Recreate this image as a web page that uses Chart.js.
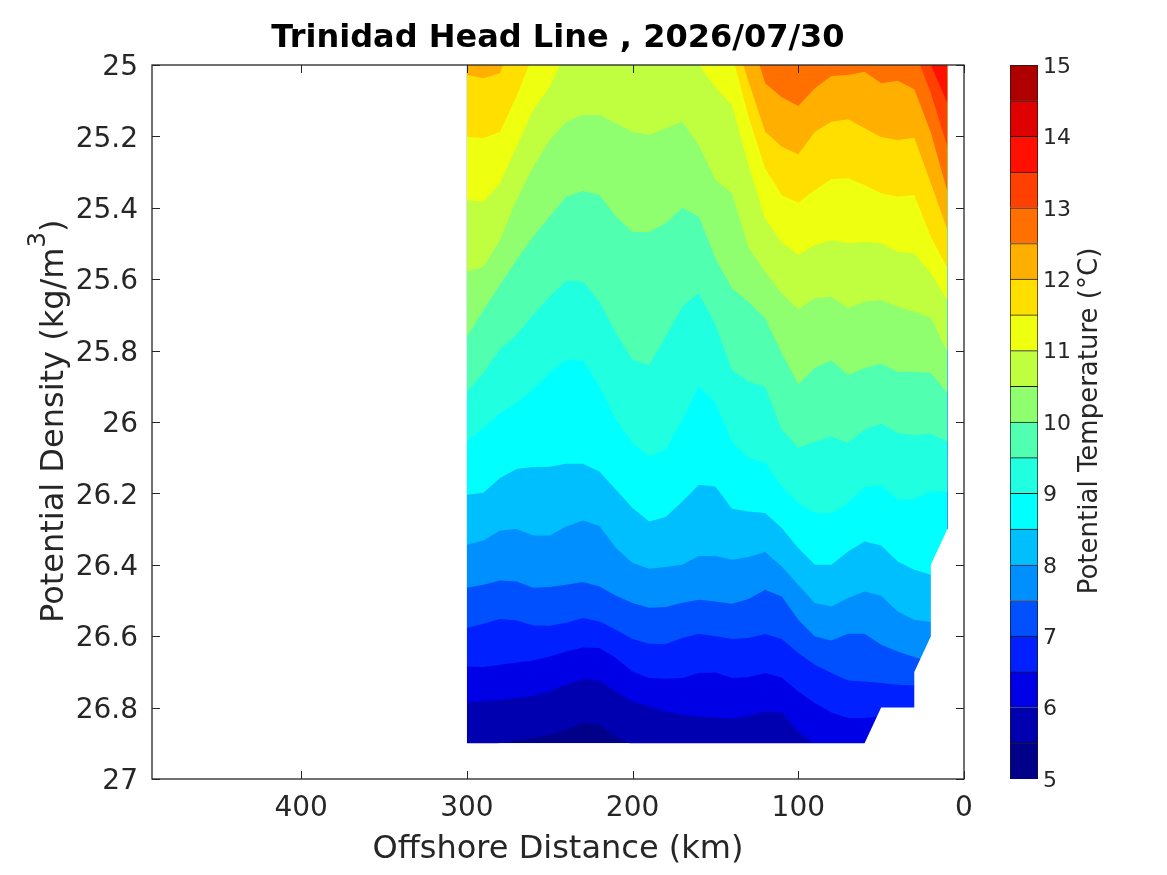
<!DOCTYPE html>
<html>
<head>
<meta charset="utf-8">
<title>Trinidad Head Line</title>
<script src="https://cdn.jsdelivr.net/npm/chart.js@4"></script>
<style>
  body { margin: 0; background: #fff; }
  canvas { position: absolute; top: 0; }
  #sectionChart { left: 0; }
  #barChart { left: 1000px; }
</style>
</head>
<body>
<canvas id="sectionChart" width="1000" height="875"></canvas>
<canvas id="barChart" width="167" height="875"></canvas>
<script>
// offshore stations (km)
const stations = [300,290,280,270,260,250,240,230,220,210,200,190,180,170,160,150,140,130,120,110,100,90,80,70,60,50,40,30,20,10];

// density of each temperature contour at the stations; warmer water is above the line
const t5_0 = [26.9,26.9,26.9,26.9,26.9,26.9,26.9,26.9,26.9,26.9,26.9,26.9,26.9,26.9,26.9,26.9,26.9,26.9,26.9,26.9,26.9,26.9,26.9,26.9,26.9,26.9,26.9,26.9,26.9,26.9];
const t5_5 = [26.91,26.91,26.9,26.893,26.885,26.877,26.863,26.843,26.849,26.882,26.905,26.95,26.95,26.95,26.95,26.95,26.95,26.95,26.95,26.95,26.95,26.95,26.95,26.95,26.95,26.95,26.95,26.95,26.95,26.95];
const t6_0 = [26.786,26.782,26.778,26.773,26.767,26.755,26.736,26.72,26.724,26.755,26.783,26.797,26.811,26.82,26.825,26.828,26.831,26.823,26.811,26.815,26.867,26.904,26.95,26.95,26.95,26.95,26.95,26.95,26.95,26.95];
const t6_5 = [26.685,26.686,26.68,26.674,26.668,26.657,26.643,26.632,26.633,26.661,26.699,26.717,26.719,26.717,26.703,26.702,26.717,26.714,26.703,26.716,26.755,26.787,26.814,26.829,26.829,26.825,26.85,26.95,26.95,26.95];
const t7_0 = [26.577,26.565,26.552,26.556,26.57,26.571,26.562,26.549,26.559,26.582,26.608,26.621,26.622,26.605,26.593,26.6,26.608,26.605,26.594,26.608,26.647,26.68,26.703,26.724,26.727,26.731,26.736,26.738,26.742,26.76];
const t7_5 = [26.464,26.456,26.444,26.447,26.464,26.462,26.456,26.448,26.461,26.487,26.507,26.52,26.518,26.506,26.498,26.503,26.509,26.496,26.47,26.489,26.554,26.601,26.612,26.593,26.593,26.624,26.643,26.658,26.672,26.7];
const t8_0 = [26.344,26.332,26.304,26.3,26.318,26.318,26.293,26.276,26.291,26.353,26.395,26.411,26.406,26.4,26.375,26.375,26.386,26.378,26.364,26.405,26.456,26.507,26.517,26.493,26.475,26.487,26.531,26.554,26.56,26.6];
const t8_5 = [26.204,26.198,26.157,26.132,26.126,26.125,26.117,26.117,26.139,26.19,26.241,26.279,26.266,26.223,26.176,26.181,26.243,26.251,26.255,26.297,26.353,26.4,26.4,26.363,26.335,26.346,26.391,26.414,26.428,26.45];
const t9_0 = [26.055,26.017,25.975,25.947,25.908,25.863,25.826,25.828,25.901,25.994,26.059,26.097,26.076,25.994,25.901,25.947,26.055,26.101,26.115,26.181,26.227,26.255,26.257,26.227,26.182,26.178,26.218,26.216,26.195,26.195];
const t9_5 = [25.915,25.863,25.796,25.756,25.7,25.649,25.604,25.607,25.663,25.751,25.826,25.84,25.761,25.677,25.639,25.728,25.854,25.887,25.902,26.022,26.072,26.055,26.041,26.058,26.022,26.005,26.031,26.038,26.033,26.055];
const t10_0 = [25.761,25.686,25.616,25.546,25.481,25.425,25.369,25.353,25.364,25.425,25.468,25.468,25.443,25.4,25.425,25.542,25.626,25.664,25.71,25.807,25.894,25.849,25.828,25.868,25.849,25.837,25.859,25.859,25.863,25.919];
const t10_5 = [25.579,25.565,25.49,25.378,25.285,25.21,25.159,25.14,25.14,25.163,25.187,25.196,25.177,25.159,25.225,25.322,25.36,25.512,25.58,25.64,25.684,25.653,25.649,25.681,25.663,25.658,25.677,25.691,25.709,25.803];
const t11_0 = [25.378,25.383,25.331,25.229,25.126,25.061,24.964,24.9,24.9,24.9,24.9,24.9,24.9,24.9,25,25.062,25.113,25.28,25.431,25.496,25.532,25.504,25.49,25.499,25.495,25.499,25.523,25.527,25.583,25.658];
const t11_5 = [25.201,25.205,25.187,25.087,24.972,24.9,24.9,24.9,24.9,24.9,24.9,24.9,24.9,24.9,24.9,24.9,24.97,25.145,25.29,25.364,25.386,25.35,25.32,25.317,25.336,25.359,25.369,25.364,25.481,25.569];
const t12_0 = [25.028,25.037,25.023,24.9,24.9,24.9,24.9,24.9,24.9,24.9,24.9,24.9,24.9,24.9,24.9,24.9,24.9,25.047,25.187,25.229,25.25,25.187,25.159,25.152,25.177,25.202,25.21,25.204,25.331,25.462];
const t12_5 = [24.9,24.9,24.9,24.9,24.9,24.9,24.9,24.9,24.9,24.9,24.9,24.9,24.9,24.9,24.9,24.9,24.9,24.9,25.051,25.09,25.115,25.065,25.031,25.028,25.019,25.051,25.044,25.068,25.19,25.355];
const t13_0 = [24.9,24.9,24.9,24.9,24.9,24.9,24.9,24.9,24.9,24.9,24.9,24.9,24.9,24.9,24.9,24.9,24.9,24.9,24.9,24.9,24.9,24.9,24.9,24.9,24.9,24.9,24.9,24.957,25.079,25.229];
const t13_5 = [24.9,24.9,24.9,24.9,24.9,24.9,24.9,24.9,24.9,24.9,24.9,24.9,24.9,24.9,24.9,24.9,24.9,24.9,24.9,24.9,24.9,24.9,24.9,24.9,24.9,24.9,24.9,24.9,25,25.107];

// edge of the sampled section, everything under it stays white
const edgeDist = [310,60,50,30,30,20,20,10,0];
const edgeDens = [26.9,26.9,26.8,26.8,26.7,26.6,26.4,26.3,26.3];

const tempBands = [5,5.5,6,6.5,7,7.5,8,8.5,9,9.5,10,10.5,11,11.5,12,12.5,13,13.5,14,14.5,15];
const bandColors = ['#000088','#0000b0','#0000e6','#0020ff','#0050ff','#008fff','#00bfff','#00ffff','#20ffdf','#50ffaf','#8fff70','#bfff40','#efff10','#ffdf00','#ffaf00','#ff7000','#ff4000','#ff1000','#df0000','#af0000'];

const xTicks = [0,100,200,300,400];
const yTicks = [25,25.2,25.4,25.6,25.8,26,26.2,26.4,26.6,26.8,27];
const barTicks = [5,6,7,8,9,10,11,12,13,14,15];

const contours = [t5_0,t5_5,t6_0,t6_5,t7_0,t7_5,t8_0,t8_5,t9_0,t9_5,t10_0,t10_5,t11_0,t11_5,t12_0,t12_5,t13_0,t13_5];

const FONT = '"DejaVu Sans"';
const INK = '#262626';
Chart.defaults.font.family = FONT;
Chart.defaults.color = INK;

let datasets = [];
contours.forEach(function(line, i){
  datasets.push({
    data: line.map(function(d, j){ return {x: stations[j], y: d}; }),
    showLine: true,
    pointRadius: 0,
    borderWidth: 0,
    borderColor: 'transparent',
    backgroundColor: bandColors[i],
    fill: {value: 25},
    tension: 0,
    order: contours.length - i
  });
});
// white under the section edge, drawn last
datasets.push({
  data: edgeDist.map(function(x, j){ return {x: x, y: edgeDens[j]}; }),
  showLine: true,
  pointRadius: 0,
  borderWidth: 0,
  borderColor: 'transparent',
  backgroundColor: '#fff',
  fill: {value: 27},
  tension: 0,
  order: -1
});

// MATLAB style box with the ticks pointing inwards
const boxPlugin = {
  id: 'box',
  afterDatasetsDraw(chart){
    const c = chart.ctx, a = chart.chartArea;
    const tick = 8;
    c.save();
    c.strokeStyle = INK;
    c.lineWidth = 1.3;
    c.strokeRect(a.left, a.top, a.right - a.left, a.bottom - a.top);
    c.lineWidth = 1;
    c.beginPath();
    xTicks.forEach(function(v){
      const p = Math.round(chart.scales.x.getPixelForValue(v)) + 0.5;
      c.moveTo(p, a.bottom); c.lineTo(p, a.bottom - tick);
      c.moveTo(p, a.top); c.lineTo(p, a.top + tick);
    });
    yTicks.forEach(function(v){
      const p = Math.round(chart.scales.y.getPixelForValue(v)) + 0.5;
      c.moveTo(a.left, p); c.lineTo(a.left + tick, p);
      c.moveTo(a.right, p); c.lineTo(a.right - tick, p);
    });
    c.stroke();
    c.restore();
  }
};

// y axis title, the library has no superscript
const yTitlePlugin = {
  id: 'yTitle',
  afterDraw(chart){
    const c = chart.ctx;
    const head = 'Potential Density (kg/m';
    c.save();
    c.translate(62.5, 623);
    c.rotate(-Math.PI / 2);
    c.fillStyle = INK;
    c.textBaseline = 'alphabetic';
    c.font = '32px ' + FONT;
    c.fillText(head, 0, 0);
    let w = c.measureText(head).width;
    c.font = '24.5px ' + FONT;
    c.fillText('3', w, -17.5);
    w += c.measureText('3').width;
    c.font = '32px ' + FONT;
    c.fillText(')', w, 0);
    c.restore();
  }
};

new Chart(document.getElementById('sectionChart'), {
  type: 'scatter',
  data: {datasets: datasets},
  plugins: [boxPlugin, yTitlePlugin],
  options: {
    responsive: false,
    animation: false,
    devicePixelRatio: 1,
    layout: {padding: {right: 36}},
    plugins: {
      legend: {display: false},
      tooltip: {enabled: false},
      title: {
        display: true,
        text: 'Trinidad Head Line , 2026/07/30',
        fullSize: false,
        color: '#000',
        font: {size: 32, weight: 'bold'},
        padding: {top: 19, bottom: 7.6}
      }
    },
    scales: {
      x: {
        type: 'linear',
        reverse: true,
        min: 0,
        max: 490,
        afterBuildTicks(scale){ scale.ticks = xTicks.map(function(v){ return {value: v}; }); },
        afterFit(scale){ scale.height = 96; },
        grid: {display: false, tickLength: 0},
        border: {display: false},
        ticks: {font: {size: 28}, padding: 13, maxRotation: 0, autoSkip: false, callback: function(v){ return String(v); }},
        title: {display: true, text: 'Offshore Distance (km)', font: {size: 32}, padding: {top: 6, bottom: 6}}
      },
      y: {
        type: 'linear',
        reverse: true,
        min: 25,
        max: 27,
        afterBuildTicks(scale){ scale.ticks = yTicks.map(function(v){ return {value: v}; }); },
        afterFit(scale){ scale.width = 152; },
        grid: {display: false, tickLength: 0},
        border: {display: false},
        ticks: {font: {size: 28}, padding: 14, labelOffset: 3, autoSkip: false, callback: function(v){ return String(v); }}
      }
    }
  }
});

// colour bar
let barSets = [];
bandColors.forEach(function(col, i){
  barSets.push({
    data: [[tempBands[i], tempBands[i + 1]]],
    backgroundColor: col,
    borderColor: '#1a1a1a',
    borderWidth: {top: 1, bottom: 0, left: 1, right: 1},
    borderSkipped: false,
    barPercentage: 1,
    categoryPercentage: 1,
    grouped: false
  });
});

const barTitlePlugin = {
  id: 'barTitle',
  afterDraw(chart){
    const c = chart.ctx;
    c.save();
    c.translate(90, 421);
    c.rotate(-Math.PI / 2);
    c.font = '26px ' + FONT;
    c.fillStyle = INK;
    c.textAlign = 'center';
    c.textBaseline = 'middle';
    c.fillText('Potential Temperature (°C)', 0, 0);
    c.restore();
  }
};

new Chart(document.getElementById('barChart'), {
  type: 'bar',
  data: {labels: [''], datasets: barSets},
  plugins: [barTitlePlugin],
  options: {
    responsive: false,
    animation: false,
    devicePixelRatio: 1,
    layout: {padding: {left: 10, top: 65, bottom: 96}},
    plugins: {legend: {display: false}, tooltip: {enabled: false}},
    scales: {
      x: {display: false},
      y: {
        position: 'right',
        min: 5,
        max: 15,
        afterBuildTicks(scale){ scale.ticks = barTicks.map(function(v){ return {value: v}; }); },
        afterFit(scale){ scale.width = 129; },
        grid: {display: false, tickLength: 0},
        border: {display: false},
        ticks: {font: {size: 22}, padding: 5, labelOffset: 2, autoSkip: false, callback: function(v){ return String(v); }}
      }
    }
  }
});
</script>
</body>
</html>
